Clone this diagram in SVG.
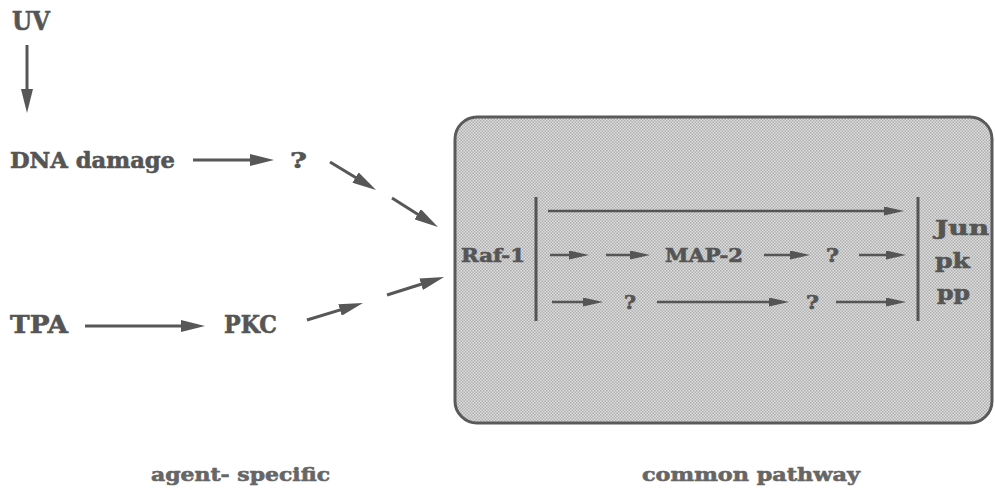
<svg xmlns="http://www.w3.org/2000/svg" width="995" height="490" viewBox="0 0 995 490">
<defs>
<style>
.t{font-family:"DejaVu Serif","Liberation Serif",serif;font-weight:bold;fill:#555;stroke:#555;stroke-width:0.6;}
.c{stroke:#575757;stroke-width:3;fill:none;}
.ci{stroke:#555;stroke-width:2.5;fill:none;}
.bar{stroke:#555;stroke-width:3;}
</style>
<marker id="ah" markerUnits="userSpaceOnUse" viewBox="0 0 24 12" markerWidth="24" markerHeight="12" refX="14" refY="6" orient="auto"><path d="M0,0 L24,6 L0,12 z" fill="#575757"/></marker>
<marker id="ai" markerUnits="userSpaceOnUse" viewBox="0 0 20 9" markerWidth="20" markerHeight="9" refX="12" refY="4.5" orient="auto"><path d="M0,0 L20,4.5 L0,9 z" fill="#555"/></marker>
<pattern id="dots" patternUnits="userSpaceOnUse" width="3" height="3">
<rect width="3" height="3" fill="#dedede"/>
<rect width="1.5" height="1.5" fill="#afafaf"/>
<rect x="1.5" y="1.5" width="1.5" height="1.5" fill="#afafaf"/>
</pattern>
</defs>
<rect width="995" height="490" fill="#fff"/>
<g id="box"><rect x="455" y="117" width="537" height="306" rx="22" fill="url(#dots)" stroke="#5a5a5a" stroke-width="3"/></g>
<g id="connectors">
<line class="c" x1="27" y1="45" x2="27" y2="103" marker-end="url(#ah)"/>
<line class="c" x1="193" y1="160" x2="264" y2="160" marker-end="url(#ah)"/>
<line class="c" x1="330" y1="162" x2="367.5" y2="184.8" marker-end="url(#ah)"/>
<line class="c" x1="392" y1="198" x2="429.5" y2="221.7" marker-end="url(#ah)"/>
<line class="c" x1="85" y1="326" x2="195" y2="326" marker-end="url(#ah)"/>
<line class="c" x1="307" y1="320" x2="353.4" y2="305.9" marker-end="url(#ah)"/>
<line class="c" x1="387" y1="295" x2="434.5" y2="280" marker-end="url(#ah)"/>
<line class="bar" x1="536" y1="197" x2="536" y2="321"/>
<line class="bar" x1="918" y1="197" x2="918" y2="321"/>
<line class="ci" x1="548" y1="211" x2="896" y2="211" marker-end="url(#ai)"/>
<line class="ci" x1="550" y1="255" x2="581" y2="255" marker-end="url(#ai)"/>
<line class="ci" x1="606" y1="255" x2="642" y2="255" marker-end="url(#ai)"/>
<line class="ci" x1="764" y1="255" x2="802" y2="255" marker-end="url(#ai)"/>
<line class="ci" x1="859" y1="255" x2="898" y2="255" marker-end="url(#ai)"/>
<line class="ci" x1="552" y1="302" x2="595" y2="302" marker-end="url(#ai)"/>
<line class="ci" x1="657" y1="302" x2="781" y2="302" marker-end="url(#ai)"/>
<line class="ci" x1="836" y1="302" x2="898" y2="302" marker-end="url(#ai)"/>
</g>
<g id="uv"><text class="t" x="12" y="30" font-size="26" textLength="38" lengthAdjust="spacingAndGlyphs">UV</text></g>
<g id="dna"><text class="t" x="10" y="168" font-size="22" textLength="165" lengthAdjust="spacingAndGlyphs">DNA damage</text></g>
<g id="q1"><text class="t" x="290" y="168" font-size="22" textLength="17" lengthAdjust="spacingAndGlyphs">?</text></g>
<g id="tpa"><text class="t" x="10" y="333" font-size="24" textLength="58" lengthAdjust="spacingAndGlyphs">TPA</text></g>
<g id="pkc"><text class="t" x="224" y="333" font-size="24" textLength="53" lengthAdjust="spacingAndGlyphs">PKC</text></g>
<g id="raf"><text class="t" x="461" y="262" font-size="18" textLength="64" lengthAdjust="spacingAndGlyphs">Raf-1</text></g>
<g id="map2"><text class="t" x="665" y="262" font-size="18" textLength="78" lengthAdjust="spacingAndGlyphs">MAP-2</text></g>
<g id="q2"><text class="t" x="826" y="262" font-size="18" textLength="13" lengthAdjust="spacingAndGlyphs">?</text></g>
<g id="q3"><text class="t" x="624" y="309" font-size="18" textLength="12" lengthAdjust="spacingAndGlyphs">?</text></g>
<g id="q4"><text class="t" x="806" y="309" font-size="18" textLength="13" lengthAdjust="spacingAndGlyphs">?</text></g>
<g id="jun"><text class="t" x="935" y="235" font-size="20" textLength="54" lengthAdjust="spacingAndGlyphs">Jun</text>
<text class="t" x="935" y="268" font-size="20" textLength="35" lengthAdjust="spacingAndGlyphs">pk</text>
<text class="t" x="937" y="300" font-size="20" textLength="33" lengthAdjust="spacingAndGlyphs">pp</text></g>
<g id="agent"><text class="t" x="151" y="481" font-size="19" textLength="179" lengthAdjust="spacingAndGlyphs" style="fill:#666;stroke:#666">agent- specific</text></g>
<g id="common"><text class="t" x="642" y="481" font-size="19" textLength="218" lengthAdjust="spacingAndGlyphs" style="fill:#666;stroke:#666">common pathway</text></g>
</svg>
